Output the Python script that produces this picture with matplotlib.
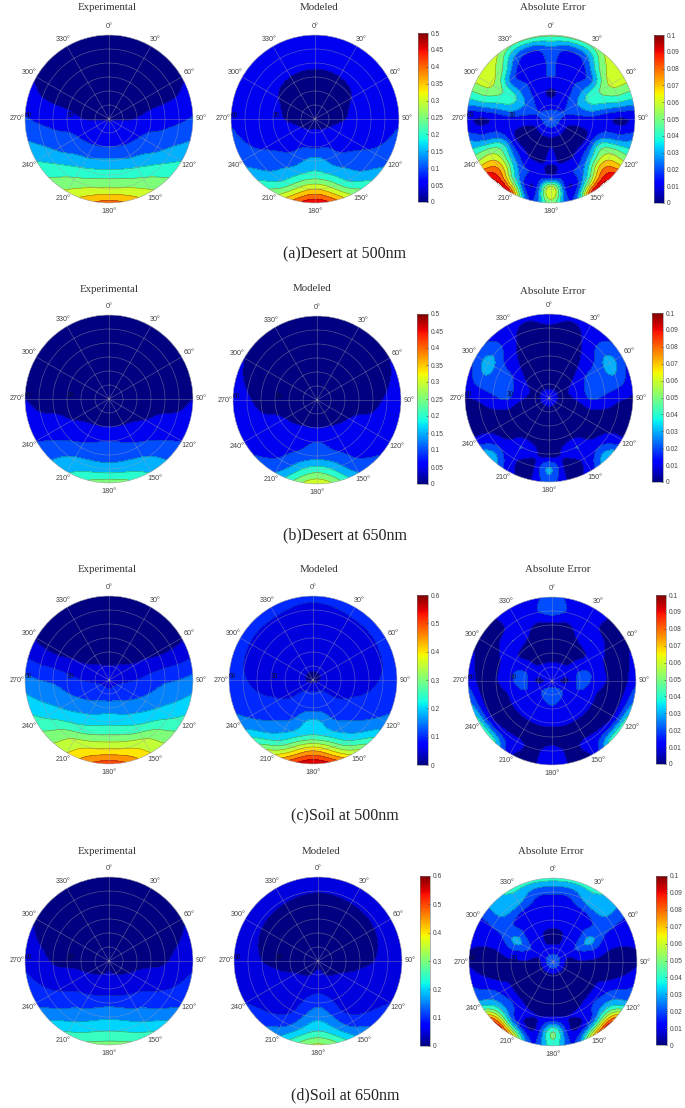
import numpy as np
import matplotlib
matplotlib.use("Agg")
import matplotlib.pyplot as plt
from matplotlib.cm import ScalarMappable
from matplotlib.colors import Normalize

# Rows: zenith 0,10,...,60. Columns: azimuth (mirrored about the 0-180 axis).
zenith = [0, 10, 20, 30, 40, 50, 60]
az_coarse = [0, 30, 60, 90, 120, 150, 180]
az_fine = [0, 15, 30, 45, 60, 75, 90, 105, 120, 135, 150, 165, 180]

a_exp = [[.045]*7,
         [.02, .02, .03, .045, .065, .07, .07],
         [.01, .015, .025, .052, .08, .095, .10],
         [.01, .01, .025, .07, .115, .14, .16],
         [.01, .01, .025, .08, .135, .20, .23],
         [.01, .015, .03, .09, .17, .26, .31],
         [.01, .02, .045, .105, .20, .31, .42]]
a_mod = [[.03]*7,
         [.035, .035, .038, .04, .045, .055, .06],
         [.035, .038, .042, .047, .07, .09, .095],
         [.042, .042, .05, .065, .08, .11, .17],
         [.056, .058, .06, .075, .095, .15, .22],
         [.065, .065, .068, .085, .11, .19, .35],
         [.075, .075, .075, .095, .135, .27, .49]]
a_err = [[.03]*13,
         [.015, .014, .016, .018, .02, .02, .016, .013, .012, .012, .012, .012, .012],
         [.009, .011, .016, .022, .028, .024, .016, .010, .008, .008, .009, .009, .010],
         [.020, .018, .018, .027, .042, .035, .016, .012, .012, .012, .009, .008, .012],
         [.022, .013, .014, .026, .05, .038, .012, .022, .045, .038, .022, .018, .010],
         [.027, .019, .026, .052, .062, .042, .009, .024, .06, .075, .04, .010, .068],
         [.052, .052, .052, .065, .065, .042, .012, .03, .06, .10, .095, .02, .055]]

b_exp = [[.035]*7,
         [.01, .01, .015, .03, .035, .04, .04],
         [.008, .008, .012, .025, .04, .047, .05],
         [.008, .008, .012, .03, .05, .08, .10],
         [.008, .008, .012, .032, .07, .115, .13],
         [.008, .008, .014, .035, .085, .16, .175],
         [.008, .01, .018, .05, .10, .195, .28]]
b_mod = [[.03]*7,
         [.02, .02, .02, .03, .03, .035, .035],
         [.015, .015, .02, .032, .04, .048, .05],
         [.015, .015, .022, .036, .055, .068, .10],
         [.018, .018, .028, .042, .062, .09, .13],
         [.022, .025, .036, .054, .07, .11, .23],
         [.03, .032, .05, .065, .085, .15, .34]]
b_err = [[.016]*13,
         [.006, .006, .006, .006, .007, .007, .006, .006, .005, .005, .005, .005, .005],
         [.004, .004, .005, .007, .012, .016, .012, .006, .004, .004, .004, .004, .004],
         [.004, .004, .005, .011, .02, .022, .021, .010, .005, .004, .004, .004, .005],
         [.006, .005, .008, .015, .024, .025, .018, .008, .005, .008, .02, .012, .004],
         [.008, .006, .011, .022, .034, .026, .012, .006, .01, .02, .012, .006, .031],
         [.018, .012, .014, .019, .021, .016, .009, .006, .012, .04, .015, .008, .024]]

c_exp = [[.07]*7,
         [.05, .055, .07, .09, .115, .125, .12],
         [.03, .035, .055, .10, .135, .16, .18],
         [.02, .025, .05, .12, .165, .21, .235],
         [.015, .018, .04, .14, .20, .27, .31],
         [.015, .025, .04, .15, .235, .36, .41],
         [.02, .035, .045, .165, .27, .40, .53]]
c_mod = [[.04]*7,
         [.06, .06, .06, .065, .08, .105, .11],
         [.065, .065, .065, .07, .09, .125, .135],
         [.07, .07, .072, .08, .105, .14, .215],
         [.08, .08, .08, .09, .12, .18, .26],
         [.09, .095, .095, .105, .14, .25, .44],
         [.11, .115, .12, .13, .17, .38, .60]]
c_err = [[.015]*13,
         [.012, .012, .012, .012, .012, .01, .008, .011, .017, .02, .022, .024, .024],
         [.006, .006, .007, .009, .015, .021, .023, .021, .014, .012, .013, .016, .018],
         [.005, .005, .006, .008, .012, .018, .018, .013, .012, .012, .012, .012, .012],
         [.008, .007, .014, .02, .012, .009, .009, .005, .005, .004, .004, .005, .006],
         [.024, .018, .016, .009, .006, .006, .006, .008, .009, .013, .012, .008, .013],
         [.024, .016, .014, .009, .008, .012, .018, .03, .045, .045, .012, .008, .016]]

d_exp = [[.04]*7,
         [.012, .012, .02, .035, .042, .048, .053],
         [.01, .01, .018, .037, .055, .07, .073],
         [.01, .01, .018, .038, .08, .11, .135],
         [.01, .01, .02, .045, .095, .155, .19],
         [.01, .012, .026, .07, .115, .20, .25],
         [.012, .016, .045, .09, .14, .26, .32]]
d_mod = [[.035]*7,
         [.03, .03, .035, .04, .042, .047, .06],
         [.028, .03, .035, .042, .052, .065, .085],
         [.03, .03, .036, .046, .058, .08, .135],
         [.038, .038, .042, .05, .066, .09, .185],
         [.052, .054, .055, .062, .08, .125, .25],
         [.07, .07, .07, .075, .10, .185, .36]]
d_err = [[.028]*13,
         [.012, .012, .012, .012, .012, .01, .008, .007, .007, .007, .007, .007, .008],
         [.008, .009, .012, .015, .022, .015, .009, .006, .005, .005, .005, .005, .005],
         [.014, .014, .014, .02, .033, .018, .008, .009, .007, .005, .005, .005, .006],
         [.016, .016, .016, .02, .022, .012, .006, .008, .015, .018, .012, .010, .012],
         [.022, .023, .034, .033, .02, .011, .006, .012, .027, .038, .018, .01, .05],
         [.045, .044, .042, .035, .018, .012, .009, .018, .035, .09, .075, .02, .045]]

rows = ["a", "b", "c", "d"]
captions = ["(a)Desert at 500nm", "(b)Desert at 650nm", "(c)Soil at 500nm", "(d)Soil at 650nm"]
vmax_model = [0.5, 0.5, 0.6, 0.6]
tick_model = [[0, .05, .1, .15, .2, .25, .3, .35, .4, .45, .5],
              [0, .05, .1, .15, .2, .25, .3, .35, .4, .45, .5],
              [0, .1, .2, .3, .4, .5, .6],
              [0, .1, .2, .3, .4, .5, .6]]
tick_err = [0, .01, .02, .03, .04, .05, .06, .07, .08, .09, .1]
panels = [[a_exp, a_mod, a_err], [b_exp, b_mod, b_err], [c_exp, c_mod, c_err], [d_exp, d_mod, d_err]]
titles = ["Experimental", "Modeled", "Absolute Error"]

# Layout in reference pixels
W, H = 685, 1108
R = 84
centers = [[(109, 119), (315, 119), (551, 119)],
           [(109, 399), (317, 400), (549, 398)],
           [(109, 680), (313, 680), (552, 681)],
           [(109, 961), (318, 961), (553, 962)]]
title_pos = [[(107, 8), (319, 8), (553, 8)],
             [(109, 290), (312, 289), (553, 291)],
             [(107, 570), (319, 570), (558, 570)],
             [(107, 851), (321, 851), (551, 851)]]
cbars = [[(418, 33, 428, 202), (654, 35, 664, 203)],
         [(417, 314, 428, 484), (652, 313, 663, 482)],
         [(417, 595, 428, 765), (656, 595, 666, 764)],
         [(420, 876, 430, 1046), (656, 876, 667, 1045)]]
caption_y = [254, 535, 815, 1095]

SERIF = "Liberation Serif"
SANS = "Liberation Sans"
fig = plt.figure(figsize=(W / 100, H / 100), dpi=100)


def px_rect(x0, y0, x1, y1):
    return [x0 / W, 1 - y1 / H, (x1 - x0) / W, (y1 - y0) / H]


def catmull(arr, idx):
    """Display smoothing along axis 0; arr is padded by one sample at each end."""
    i = np.clip(np.floor(idx).astype(int), 0, arr.shape[0] - 4)
    t = (idx - i).reshape((-1,) + (1,) * (arr.ndim - 1))
    p0, p1, p2, p3 = arr[i], arr[i + 1], arr[i + 2], arr[i + 3]
    return 0.5 * (2 * p1 + (p2 - p0) * t + (2 * p0 - 5 * p1 + 4 * p2 - p3) * t ** 2
                  + (3 * p1 - p0 - 3 * p2 + p3) * t ** 3)


def expand(table, az):
    tab = np.array(table, float)
    full = np.hstack([tab, tab[:, -2:0:-1]])          # mirror about the 0-180 axis
    n_az = full.shape[1]
    # radial smoothing, continuing across the centre to the opposite azimuth
    below = np.roll(full[1], n_az // 2)
    above = 2 * full[-1] - full[-2]
    padded = np.vstack([below, full, above])
    n_r = len(zenith) - 1
    idx_r = np.linspace(0, n_r, 121)
    radial = catmull(padded, idx_r)
    # azimuthal smoothing, periodic
    per = np.hstack([radial[:, -1:], radial, radial[:, :2]]).T
    idx_a = np.linspace(0, n_az, 361)
    vals = catmull(per, idx_a).T
    AF, ZF = np.meshgrid(np.radians(np.linspace(0, 360, 361)), idx_r * 10)
    return AF, ZF, np.clip(vals, 0, None)


def draw_polar(table, az, center, vmax, step):
    cx, cy = center
    ax = fig.add_axes(px_rect(cx - R, cy - R, cx + R, cy + R), projection="polar")
    ax.set_theta_zero_location("N")
    ax.set_theta_direction(-1)
    T, Z, V = expand(table, az)
    levels = np.arange(0, vmax + step * 0.5, step)
    colors = [plt.cm.jet(l / vmax) for l in levels[:-1]]
    ax.contourf(T, Z, V, levels=levels, colors=colors, extend="neither")
    ax.contour(T, Z, V, levels=levels[1:], colors="#1a1a2a", linewidths=0.4, alpha=0.5)
    ax.set_ylim(0, 60)
    ax.set_rgrids([10, 20, 30, 40, 50, 60], ["", "", "30", "", "", "60"], angle=270,
                  fontsize=4.8, color="#101040", family=SANS)
    ax.set_thetagrids(np.arange(0, 360, 30), [f"{d}°" for d in range(0, 360, 30)],
                      fontsize=5.2, color="#444444", family=SANS)
    ax.tick_params(axis="x", pad=-4.5)
    ax.grid(True, color="#a0a0a8", lw=0.5, alpha=0.5)
    ax.set_axisbelow(False)
    ax.spines["polar"].set_linewidth(0.3)
    ax.spines["polar"].set_color("#9a9a9a")
    return ax


def draw_cbar(rect, vmax, ticks):
    cax = fig.add_axes(px_rect(*rect))
    sm = ScalarMappable(norm=Normalize(0, vmax), cmap="jet")
    cb = fig.colorbar(sm, cax=cax)
    cb.set_ticks(ticks)
    cb.set_ticklabels([f"{t:g}" for t in ticks])
    cb.ax.tick_params(direction="in", length=1.5, width=0.4, labelsize=4.8, pad=2,
                      colors="#444444")
    for lab in cb.ax.get_yticklabels():
        lab.set_family(SANS)
    cb.outline.set_linewidth(0.4)
    cb.outline.set_edgecolor("#777777")


for i, key in enumerate(rows):
    vm = vmax_model[i]
    specs = [(az_coarse, vm, 0.05), (az_coarse, vm, 0.05), (az_fine, 0.1, 0.01)]
    for j, (az, vmax, step) in enumerate(specs):
        draw_polar(panels[i][j], az, centers[i][j], vmax, step)
        tx, ty = title_pos[i][j]
        fig.text(tx / W, 1 - ty / H, titles[j], family=SERIF, fontsize=7.8, ha="center",
                 va="center", color="#333333")
    draw_cbar(cbars[i][0], vm, tick_model[i])
    draw_cbar(cbars[i][1], 0.1, tick_err)
    fig.text(345 / W, 1 - caption_y[i] / H, captions[i], family=SERIF, fontsize=11.5,
             ha="center", va="center", color="#222222")

fig.savefig("out.png", dpi=100)
